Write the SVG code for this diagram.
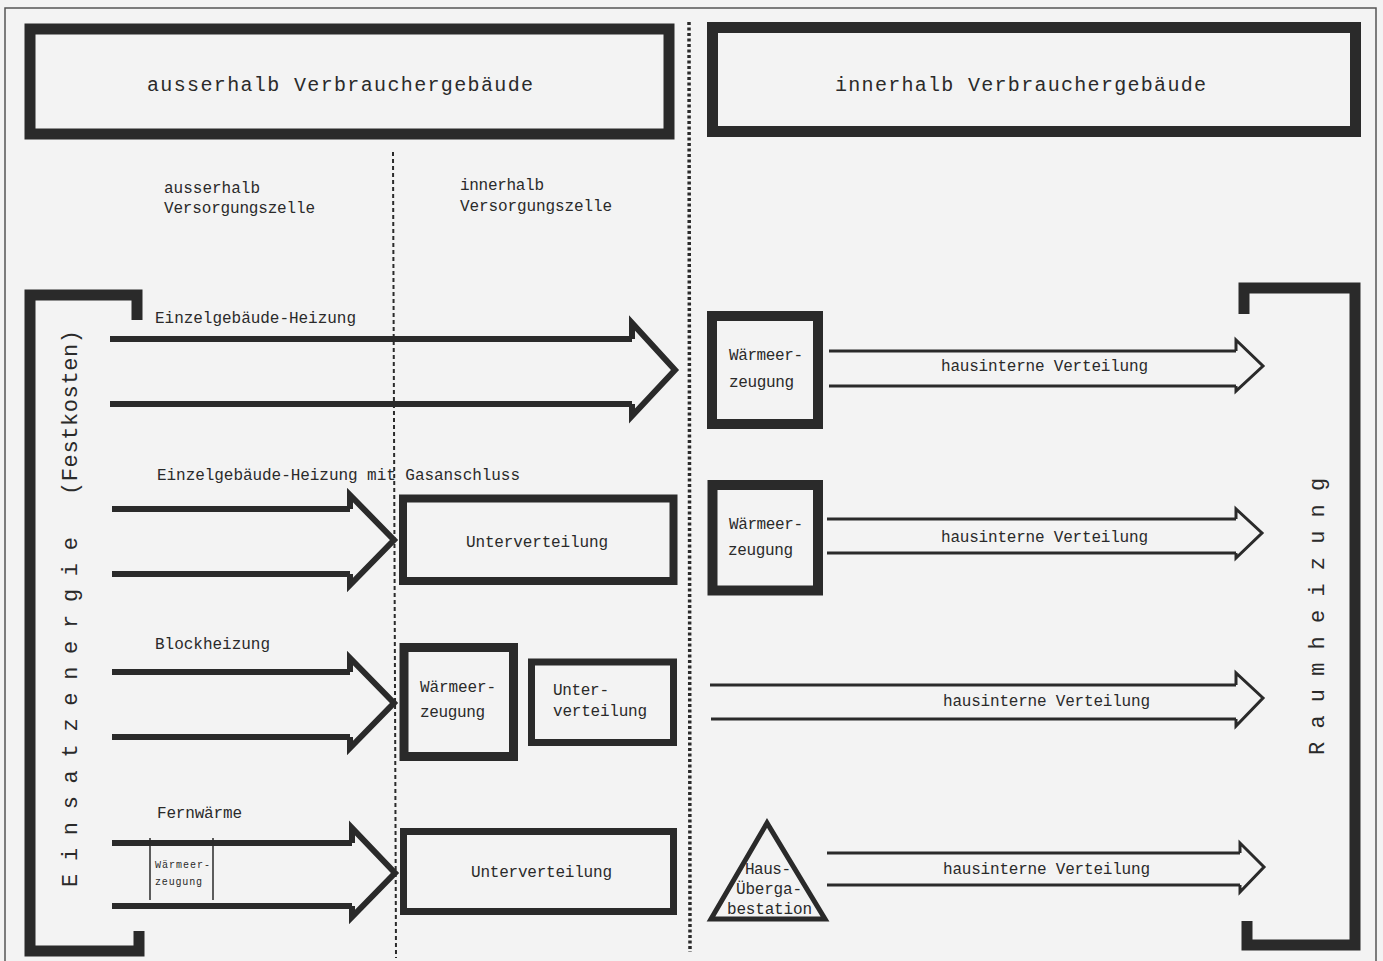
<svg xmlns="http://www.w3.org/2000/svg" width="1383" height="961" viewBox="0 0 1383 961">
<style>
text{font-family:"Liberation Mono","DejaVu Sans Mono",monospace;fill:#2a2a2a}
.h{font-size:20px}
.l{font-size:16px}
.s{font-size:10px}
.v{font-size:22px}
.thick{fill:none;stroke:#2a2a2a;stroke-linejoin:miter}
.bar{fill:none;stroke:#2a2a2a;stroke-width:11;stroke-linejoin:miter}
.la{fill:none;stroke:#2a2a2a;stroke-width:6;stroke-linejoin:miter}
.ra{fill:none;stroke:#2a2a2a;stroke-width:3;stroke-linejoin:miter}
</style>
<rect width="1383" height="961" fill="#f3f3f3"/>
<rect x="5" y="8" width="1371" height="965" fill="none" stroke="#555" stroke-width="1.5"/>

<g id="separators">
<line x1="689" y1="22" x2="690" y2="952" stroke="#2a2a2a" stroke-width="3.5" stroke-dasharray="3 2.5"/>
<line x1="393" y1="152" x2="396" y2="958" stroke="#2a2a2a" stroke-width="2" stroke-dasharray="4 3"/>
</g>

<g id="header-outside">
<rect x="30" y="29" width="639" height="105" class="thick" stroke-width="11"/>
<text class="h" x="147" y="91" textLength="386" lengthAdjust="spacing">ausserhalb Verbrauchergebäude</text>
</g>
<g id="header-inside">
<rect x="712.5" y="27.5" width="643" height="104" class="thick" stroke-width="11"/>
<text class="h" x="835" y="91" textLength="371" lengthAdjust="spacing">innerhalb Verbrauchergebäude</text>
</g>

<g id="col-outside">
<text class="l" x="164" y="193" textLength="96" lengthAdjust="spacing">ausserhalb</text>
<text class="l" x="164" y="213" textLength="151" lengthAdjust="spacing">Versorgungszelle</text>
</g>
<g id="col-inside">
<text class="l" x="460" y="190" textLength="84" lengthAdjust="spacing">innerhalb</text>
<text class="l" x="460" y="211" textLength="152" lengthAdjust="spacing">Versorgungszelle</text>
</g>

<g id="einsatzenergie">
<path class="bar" d="M137 320 V295 H30 V951 H139 V931"/>
<text class="v" transform="translate(77 887) rotate(-90)"><tspan letter-spacing="12.7">Einsatzenergie</tspan> <tspan x="392" letter-spacing="0.6">(Festkosten)</tspan></text>
</g>

<g id="raumheizung">
<path class="bar" d="M1244 314 V288 H1355 V945 H1247 V921"/>
<text class="v" transform="translate(1324 755) rotate(-90)" letter-spacing="13.2">Raumheizung</text>
</g>

<g id="connectors">
<path class="la" d="M110 339 H632 M110 404 H632 M632 339 V323 L675 370 L632 416 V404"/>
<path class="la" d="M112 509 H350 M112 574 H350 M350 509 V495 L394 540 L350 585 V574"/>
<path class="la" d="M112 672 H350 M112 737 H350 M350 672 V658 L394 703 L350 748 V737"/>
<path class="la" d="M112 843 H352 M112 906 H352 M352 843 V828 L395 873 L352 917 V906"/>
<path class="ra" d="M829 351 H1236 M829 386 H1236 M1236 351 V340 L1263 366 L1236 391 V386"/>
<path class="ra" d="M827 519 H1236 M827 553 H1236 M1236 519 V509 L1262 533 L1236 558 V553"/>
<path class="ra" d="M710 685 H1236 M711 719 H1236 M1236 685 V673 L1263 698 L1236 726 V719"/>
<path class="ra" d="M827 853 H1240 M827 885 H1240 M1240 853 V843 L1264 867 L1240 892 V885"/>
</g>

<g id="label-einzel">
<text class="l" x="155" y="323" textLength="201" lengthAdjust="spacing">Einzelgebäude-Heizung</text>
</g>
<g id="label-gas">
<text class="l" x="157" y="480" textLength="363" lengthAdjust="spacing">Einzelgebäude-Heizung mit Gasanschluss</text>
</g>
<g id="label-block">
<text class="l" x="155" y="649" textLength="115" lengthAdjust="spacing">Blockheizung</text>
</g>
<g id="label-fern">
<text class="l" x="157" y="818" textLength="85" lengthAdjust="spacing">Fernwärme</text>
</g>

<g id="fern-waermeerzeugung">
<line x1="150" y1="838" x2="150" y2="900" stroke="#2a2a2a" stroke-width="1.5"/>
<line x1="213" y1="838" x2="213" y2="900" stroke="#2a2a2a" stroke-width="1.5"/>
<text class="s" x="155" y="868" textLength="55" lengthAdjust="spacing">Wärmeer-</text>
<text class="s" x="155" y="885" textLength="47" lengthAdjust="spacing">zeugung</text>
</g>

<g id="unterverteilung-gas">
<rect x="403" y="498.5" width="270.5" height="82.5" class="thick" stroke-width="8"/>
<text class="l" x="466" y="547" textLength="142" lengthAdjust="spacing">Unterverteilung</text>
</g>

<g id="waermeerzeugung-block">
<rect x="404" y="647.5" width="109.5" height="109" class="thick" stroke-width="9"/>
<text class="l" x="420" y="692" textLength="76" lengthAdjust="spacing">Wärmeer-</text>
<text class="l" x="420" y="717" textLength="65" lengthAdjust="spacing">zeugung</text>
</g>
<g id="unterverteilung-block">
<rect x="531.5" y="662" width="142" height="80.5" class="thick" stroke-width="7"/>
<text class="l" x="553" y="695" textLength="56" lengthAdjust="spacing">Unter-</text>
<text class="l" x="553" y="716" textLength="94" lengthAdjust="spacing">verteilung</text>
</g>

<g id="unterverteilung-fern">
<rect x="403.5" y="831.5" width="270" height="80" class="thick" stroke-width="7"/>
<text class="l" x="471" y="877" textLength="141" lengthAdjust="spacing">Unterverteilung</text>
</g>

<g id="waermeerzeugung-haus1">
<rect x="712" y="316" width="106" height="108" class="thick" stroke-width="10"/>
<text class="l" x="729" y="360" textLength="74" lengthAdjust="spacing">Wärmeer-</text>
<text class="l" x="729" y="387" textLength="65" lengthAdjust="spacing">zeugung</text>
</g>
<g id="waermeerzeugung-haus2">
<rect x="712.5" y="485" width="105.5" height="105.5" class="thick" stroke-width="10"/>
<text class="l" x="729" y="529" textLength="74" lengthAdjust="spacing">Wärmeer-</text>
<text class="l" x="728" y="555" textLength="65" lengthAdjust="spacing">zeugung</text>
</g>

<g id="hausuebergabestation">
<polygon points="767,823 711,919 825,919" class="thick" stroke-width="5"/>
<text class="l" x="745" y="874" textLength="46" lengthAdjust="spacing">Haus-</text>
<text class="l" x="736" y="894" textLength="66" lengthAdjust="spacing">Überga-</text>
<text class="l" x="727" y="914" textLength="85" lengthAdjust="spacing">bestation</text>
</g>

<g id="verteilung-labels">
<text class="l" x="941" y="371" textLength="207" lengthAdjust="spacing">hausinterne Verteilung</text>
<text class="l" x="941" y="542" textLength="207" lengthAdjust="spacing">hausinterne Verteilung</text>
<text class="l" x="943" y="706" textLength="207" lengthAdjust="spacing">hausinterne Verteilung</text>
<text class="l" x="943" y="874" textLength="207" lengthAdjust="spacing">hausinterne Verteilung</text>
</g>
</svg>
